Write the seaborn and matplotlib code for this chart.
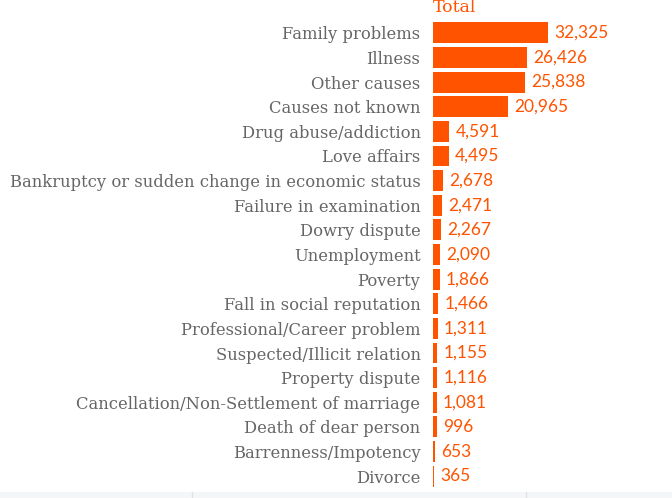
import pandas as pd
import matplotlib.pyplot as plt
import seaborn as sns
from matplotlib.patches import Rectangle

causes = [
    'Family problems', 'Illness', 'Other causes', 'Causes not known',
    'Drug abuse/addiction', 'Love affairs',
    'Bankruptcy or sudden change in economic status',
    'Failure in examination', 'Dowry dispute', 'Unemployment', 'Poverty',
    'Fall in social reputation', 'Professional/Career problem',
    'Suspected/Illicit relation', 'Property dispute',
    'Cancellation/Non-Settlement of marriage', 'Death of dear person',
    'Barrenness/Impotency', 'Divorce',
]
totals = [32325, 26426, 25838, 20965, 4591, 4495, 2678, 2471, 2267, 2090,
          1866, 1466, 1311, 1155, 1116, 1081, 996, 653, 365]

df = pd.DataFrame({'cause': causes, 'total': totals})

orange = '#ff5300'
label_grey = '#666666'

sns.set_style('white')
fig = plt.figure(figsize=(6.72, 4.98), dpi=100)
ax = fig.add_axes([433 / 672, 1 - 488.5 / 498, 239 / 672, 468 / 498])

sns.barplot(data=df, x='total', y='cause', orient='h', color=orange,
            saturation=1, width=0.85, linewidth=0, ax=ax)

ax.set_xlim(0, 67200)
ax.set_ylim(18.5, -0.5)
ax.set_xlabel('')
ax.set_ylabel('')
ax.set_xticks([])
sns.despine(ax=ax, left=True, bottom=True)

ax.tick_params(axis='y', length=6, width=1, color='#e6e6e6', pad=3)
for t in ax.get_yticklabels():
    t.set_family(['DejaVu Serif'])
    t.set_fontsize(11.8)
    t.set_color(label_grey)

for i, v in enumerate(totals):
    ax.annotate(f'{v:,}', xy=(v, i), xytext=(4.5, 0), textcoords='offset points',
                va='center', ha='left', color=orange, fontsize=12.5,
                family=['Lato', 'DejaVu Sans'])

fig.text(433 / 672, 1 - 7 / 498, 'Total', color=orange, fontsize=12.5,
         family=['DejaVu Serif'], ha='left', va='center')

# light footer strip
fig.patches.append(Rectangle((0, 0), 1, 6 / 498, transform=fig.transFigure,
                             facecolor='#f5f6f8', edgecolor='none'))
for xp in (192, 526):
    fig.add_artist(plt.Line2D([xp / 672, xp / 672], [0, 6 / 498],
                              transform=fig.transFigure, color='#e2e2e2', lw=1))

fig.savefig('out.png', dpi=100)
